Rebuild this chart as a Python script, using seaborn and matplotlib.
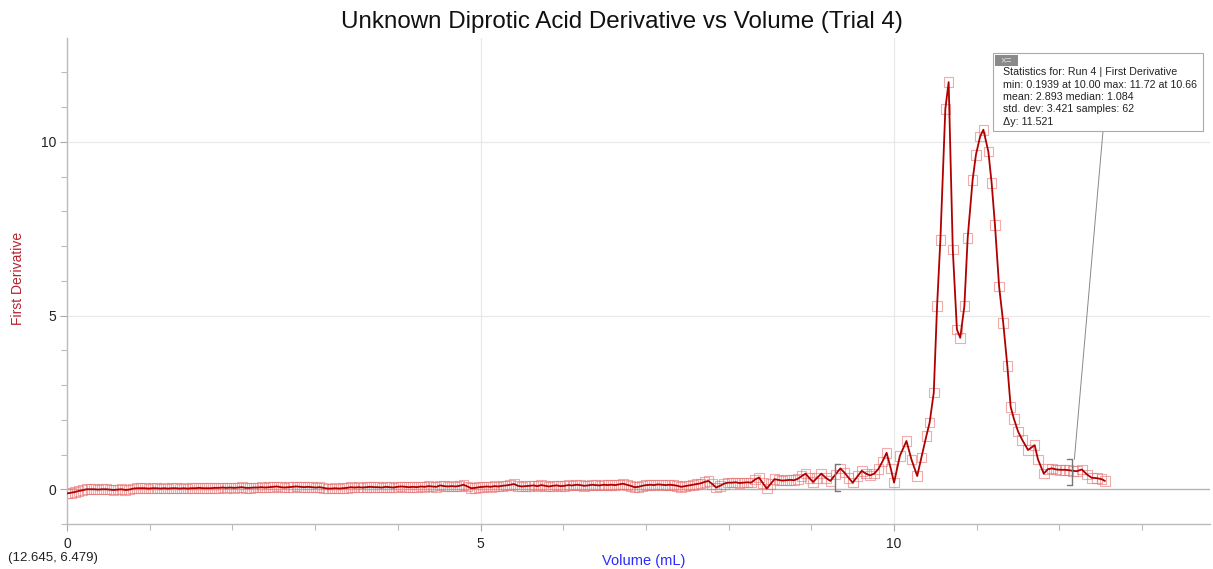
import numpy as np
import pandas as pd
import matplotlib
matplotlib.use("Agg")
import matplotlib.pyplot as plt
import matplotlib.patches as mpatches
import seaborn as sns

# ---------------- data ----------------
low_step = 0.047  # mL between drop readings in the flat part
deriv_low = [
    -0.12, -0.10, -0.08, -0.05, -0.03, 0.00, 0.00, 0.00, -0.01, 0.00,
    0.00, -0.01, -0.02, -0.01, 0.00, -0.02, -0.01, 0.02, 0.03, 0.03,
    0.03, 0.02, 0.03, 0.03, 0.02, 0.03, 0.02, 0.03, 0.03, 0.02,
    0.03, 0.02, 0.03, 0.03, 0.04, 0.03, 0.03, 0.03, 0.04, 0.04,
    0.05, 0.04, 0.05, 0.04, 0.05, 0.06, 0.04, 0.04, 0.05, 0.05,
    0.06, 0.05, 0.06, 0.07, 0.08, 0.06, 0.05, 0.06, 0.07, 0.08,
    0.07, 0.06, 0.07, 0.06, 0.05, 0.06, 0.04, 0.02, 0.02, 0.03,
    0.02, 0.03, 0.04, 0.06, 0.05, 0.06, 0.05, 0.06, 0.07, 0.06,
    0.06, 0.05, 0.07, 0.06, 0.05, 0.07, 0.08, 0.07, 0.06, 0.07,
    0.06, 0.08, 0.07, 0.09, 0.08, 0.07, 0.11, 0.09, 0.08, 0.09,
    0.08, 0.10, 0.13, 0.08, 0.03, 0.04, 0.06, 0.07, 0.08, 0.07,
    0.09, 0.08, 0.10, 0.11, 0.13, 0.15, 0.10, 0.08, 0.09, 0.10,
    0.11, 0.09, 0.12, 0.10, 0.08, 0.10, 0.11, 0.09, 0.10, 0.12,
    0.11, 0.13, 0.12, 0.10, 0.11, 0.13, 0.12, 0.11, 0.13, 0.12,
    0.13, 0.12, 0.14, 0.16, 0.13, 0.10, 0.06, 0.07, 0.10, 0.12,
    0.13, 0.12, 0.14, 0.13, 0.12, 0.13, 0.12, 0.10, 0.07, 0.09,
    0.11, 0.13, 0.15, 0.17, 0.21, 0.24, 0.15, 0.05, 0.10, 0.16,
    0.19, 0.19, 0.20, 0.18, 0.19, 0.20, 0.19, 0.28, 0.34, 0.18,
    0.02, 0.15, 0.29, 0.27, 0.25, 0.26, 0.27, 0.26, 0.30, 0.38,
    0.45, 0.32,
]
vol_peak = [
    9.02, 9.07, 9.12, 9.18, 9.23, 9.29, 9.35, 9.40, 9.45, 9.50,
    9.56, 9.61, 9.66, 9.71, 9.76, 9.81, 9.86, 9.91, 9.96, 10.00,
    10.07, 10.15, 10.21, 10.28, 10.33, 10.39, 10.43, 10.48, 10.52, 10.56,
    10.62, 10.66, 10.71, 10.76, 10.80, 10.85, 10.89, 10.95, 10.99, 11.04,
    11.08, 11.14, 11.18, 11.22, 11.27, 11.32, 11.37, 11.41, 11.45, 11.50,
    11.55, 11.62, 11.70, 11.74, 11.81, 11.86, 11.91, 11.96, 12.01, 12.06,
    12.11, 12.16, 12.21, 12.27, 12.33, 12.39, 12.45, 12.51, 12.55,
]
deriv_peak = [
    0.21, 0.33, 0.45, 0.32, 0.24, 0.42, 0.60, 0.48, 0.33, 0.19,
    0.38, 0.53, 0.45, 0.40, 0.45, 0.58, 0.80, 1.05, 0.60, 0.19,
    0.96, 1.39, 0.86, 0.38, 0.91, 1.53, 1.92, 2.78, 5.27, 7.18,
    10.95, 11.72, 6.90, 4.60, 4.36, 5.27, 7.23, 8.91, 9.63, 10.15,
    10.35, 9.72, 8.81, 7.61, 5.84, 4.79, 3.54, 2.37, 2.02, 1.66,
    1.42, 1.13, 1.27, 0.86, 0.45, 0.58, 0.60, 0.57, 0.56, 0.56,
    0.55, 0.53, 0.52, 0.57, 0.43, 0.33, 0.32, 0.29, 0.24,
]
sel_start, sel_end = 9.29, 12.15
stats_lines = [
    "Statistics for: Run 4 | First Derivative",
    "min: 0.1939 at 10.00 max: 11.72 at 10.66",
    "mean: 2.893 median: 1.084",
    "std. dev: 3.421 samples: 62",
    "\u0394y: 11.521",
]
title = "Unknown Diprotic Acid Derivative vs Volume (Trial 4)"
xlabel = "Volume (mL)"
ylabel = "First Derivative"
coord_text = "(12.645, 6.479)"

# ---------------- build frame ----------------
vol_low = np.arange(len(deriv_low)) * low_step
df = pd.DataFrame({
    "vol": np.concatenate([vol_low, np.array(vol_peak)]),
    "deriv": np.concatenate([np.array(deriv_low), np.array(deriv_peak)]),
})

sns.set_style("white")
plt.rcParams["font.family"] = ["Liberation Sans", "DejaVu Sans"]

W, H = 1213, 569
fig = plt.figure(figsize=(W / 100, H / 100), dpi=100)
ax = fig.add_axes([67 / W, 1 - 524 / H, (1210 - 67) / W, (524 - 38) / H])

line_col = "#b00000"
mark_col = (0.90, 0.45, 0.45, 0.6)

# grid
for gx in (5, 10):
    ax.axvline(gx, color="#e8e8e8", lw=0.9, zorder=0)
for gy in (5, 10):
    ax.axhline(gy, color="#e8e8e8", lw=0.9, zorder=0)
ax.axhline(0, color="#b4b4b4", lw=1.0, zorder=0.5)

sns.scatterplot(data=df, x="vol", y="deriv", ax=ax, marker="s", s=48,
                facecolors="none", edgecolor=mark_col, linewidth=0.8,
                zorder=2, legend=False)
sns.lineplot(data=df, x="vol", y="deriv", ax=ax, color=line_col, lw=1.3,
             sort=False, zorder=3, legend=False)

ax.set_xlim(0, 13.82)
ax.set_ylim(-0.98, 12.99)
ax.set_xticks([0, 5, 10])
ax.set_yticks([0, 5, 10])
ax.set_xticks(np.arange(0, 14, 1), minor=True)
ax.set_yticks(np.arange(-1, 13, 1), minor=True)
ax.tick_params(axis="both", which="major", length=5, width=0.8, color="#aaaaaa",
               labelsize=10, labelcolor="#222222", pad=3, direction="out")
ax.tick_params(axis="both", which="minor", length=4, width=0.8, color="#bbbbbb",
               direction="out")
ax.tick_params(axis="x", which="major", pad=4)
ax.tick_params(left=True, bottom=True, which="both")
for side in ("top", "right"):
    ax.spines[side].set_visible(False)
for side in ("left", "bottom"):
    ax.spines[side].set_color("#bbbbbb")
    ax.spines[side].set_linewidth(1.0)
ax.set_xlabel("")
ax.set_ylabel("")

# selection brackets
bk = "#777777"
for xb, y0, y1, d in ((sel_start, -0.06, 0.72, 1), (sel_end, 0.11, 0.86, -1)):
    ax.plot([xb, xb], [y0, y1], color=bk, lw=1.0, zorder=4)
    ax.plot([xb, xb + d * 0.06], [y0, y0], color=bk, lw=1.0, zorder=4)
    ax.plot([xb, xb + d * 0.06], [y1, y1], color=bk, lw=1.0, zorder=4)

# texts
fig.text(622 / W, 1 - 22 / H, title, ha="center", va="center", fontsize=17.4, color="#111111")
fig.text(644 / W, 1 - 561 / H, xlabel, ha="center", va="center", fontsize=10.5, color="#2a2aff")
fig.text(18 / W, 1 - 278 / H, ylabel, ha="center", va="center", rotation=90,
         fontsize=10, color="#b8222e")
fig.text(8 / W, 1 - 558 / H, coord_text, ha="left", va="center", fontsize=9.5, color="#222222")

# stats box
bx0, bx1, by0, by1 = 993, 1203, 53, 131
box = mpatches.Rectangle((bx0 / W, 1 - by1 / H), (bx1 - bx0) / W, (by1 - by0) / H,
                         transform=fig.transFigure, facecolor="white",
                         edgecolor="#aaaaaa", lw=0.8, zorder=5)
fig.add_artist(box)
icon = mpatches.Rectangle((995 / W, 1 - 66 / H), 23 / W, 11 / H,
                          transform=fig.transFigure, facecolor="#8a8a8a",
                          edgecolor="none", zorder=6)
fig.add_artist(icon)
fig.text(1006 / W, 1 - 60.5 / H, "\u00d7=", ha="center", va="center", fontsize=7,
         color="#dddddd", zorder=7)
for i, s in enumerate(stats_lines):
    fig.text(1003 / W, 1 - (72 + 12.5 * i) / H, s, ha="left", va="center",
             fontsize=7.7, color="#222222", zorder=7)

ax.annotate("", xy=(sel_end + 0.03, 0.86), xycoords="data",
            xytext=(1103 / W, 1 - 131 / H), textcoords="figure fraction",
            arrowprops=dict(arrowstyle="-", color="#888888", lw=0.7,
                            shrinkA=0, shrinkB=0), zorder=4)

fig.savefig("out.png", dpi=100)
